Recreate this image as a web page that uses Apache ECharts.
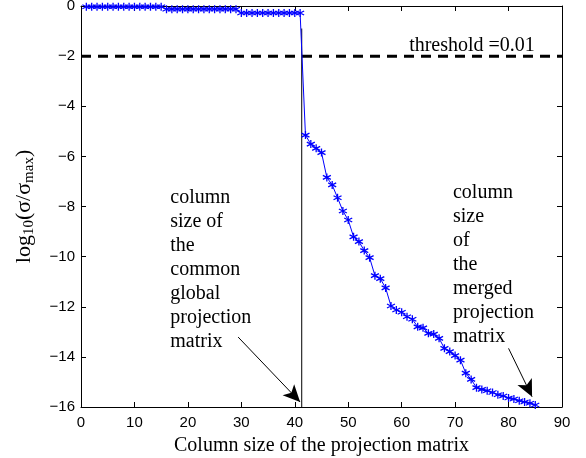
<!DOCTYPE html>
<html>
<head>
<meta charset="utf-8">
<script src="https://cdn.jsdelivr.net/npm/echarts@6/dist/echarts.min.js"></script>
<style>
html,body{margin:0;padding:0;background:#fff;}
#chart{width:586px;height:458px;}
</style>
</head>
<body>
<div id="chart"></div>
<script>
// ---- data ----
var logSigma = [
  -0.03,-0.03,-0.03,-0.03,-0.03,-0.03,-0.03,-0.03,-0.03,-0.03,-0.03,-0.03,-0.03,-0.03,-0.03,
  -0.13,-0.13,-0.13,-0.13,-0.13,-0.13,-0.13,-0.13,-0.13,-0.13,-0.13,-0.13,-0.13,-0.13,
  -0.28,-0.28,-0.28,-0.28,-0.28,-0.28,-0.28,-0.28,-0.28,-0.28,-0.28,-0.28,
  -5.15,-5.51,-5.68,-5.85,-6.84,-7.14,-7.65,-8.18,-8.54,-9.21,-9.40,-9.76,-10.04,-10.76,-10.88,
  -11.25,-11.97,-12.13,-12.22,-12.40,-12.50,-12.80,-12.84,-13.06,-13.09,-13.26,-13.66,-13.79,
  -13.95,-14.13,-14.65,-14.90,-15.23,-15.30,-15.35,-15.42,-15.51,-15.56,-15.64,-15.68,-15.75,
  -15.80,-15.85,-15.92
];
var thresholdLevel = -2;
var thresholdText = 'threshold =0.01';
var commonColumns = 41.3;
var commonLineTop = -0.9;
var xTicks = [0, 90, 10];
var yTicks = [-16, 0, 2];
var leftNote = ['column','size of','the','common','global','projection','matrix'];
var rightNote = ['column','size','of','the','merged','projection','matrix'];
var leftNotePos = [16.7, -7.18];
var rightNotePos = [69.6, -6.98];
var thresholdTextPos = [61.4, -1.6];
var leftArrow = [[29.4, -13.21], [41.0, -15.8]];
var rightArrow = [[80.0, -13.66], [84.4, -15.59]];
var xTitle = 'Column size of the projection matrix';

// ---- build ----
var seriesData = logSigma.map(function (v, i) { return [i + 1, v]; });
var asterisk = 'path://M5,0L5,10M0.67,2.5L9.33,7.5M0.67,7.5L9.33,2.5';
var serif = 'Liberation Serif';
var sans = 'Liberation Sans';
function minus(v) { return String(v).replace('-', '\u2212'); }

var axisCommon = {
  axisLine: { show: true, onZero: false, lineStyle: { color: '#000', width: 1 } },
  axisTick: { show: true, inside: true, length: 5, lineStyle: { color: '#000', width: 1 } },
  splitLine: { show: false }
};

var chart = echarts.init(document.getElementById('chart'), null, { renderer: 'canvas' });
chart.setOption({
  animation: false,
  backgroundColor: '#fff',
  grid: { left: 81, right: 24, top: 6, bottom: 51, containLabel: false, outerBoundsMode: 'none' },
  xAxis: [
    Object.assign({}, axisCommon, {
      type: 'value', position: 'bottom', min: xTicks[0], max: xTicks[1], interval: xTicks[2],
      axisLabel: { color: '#000', fontFamily: sans, fontSize: 15, margin: 8 },
      name: xTitle, nameLocation: 'middle', nameGap: 29,
      nameTextStyle: { color: '#000', fontFamily: serif, fontSize: 20 }
    }),
    Object.assign({}, axisCommon, {
      type: 'value', position: 'top', min: xTicks[0], max: xTicks[1], interval: xTicks[2],
      axisLabel: { show: false }
    })
  ],
  yAxis: [
    Object.assign({}, axisCommon, {
      type: 'value', position: 'left', min: yTicks[0], max: yTicks[1], interval: yTicks[2],
      axisLabel: { color: '#000', fontFamily: sans, fontSize: 15, margin: 6, formatter: minus },
      name: '{m|log}{s|10}{m|(σ/σ}{s|max}{m|)}',
      nameLocation: 'middle', nameRotate: 90, nameGap: 46,
      nameTextStyle: {
        color: '#000', fontFamily: serif, fontSize: 21,
        rich: {
          m: { fontFamily: serif, fontSize: 22, lineHeight: 22, color: '#000' },
          s: { fontFamily: serif, fontSize: 15, lineHeight: 15, padding: [10, 0, 0, 0], color: '#000' }
        }
      }
    }),
    Object.assign({}, axisCommon, {
      type: 'value', position: 'right', min: yTicks[0], max: yTicks[1], interval: yTicks[2],
      axisLabel: { show: false }
    })
  ],
  series: [
    {
      type: 'line', data: [[xTicks[0], thresholdLevel], [xTicks[1], thresholdLevel]],
      symbol: 'none', silent: true, z: 1,
      lineStyle: { color: '#000', width: 3, type: [10, 7] }
    },
    {
      type: 'line', data: [[commonColumns, commonLineTop], [commonColumns, yTicks[0]]],
      symbol: 'none', silent: true, z: 1,
      lineStyle: { color: '#000', width: 1 },
      markLine: {
        silent: true, animation: false,
        symbol: ['none', 'arrow'], symbolSize: [12, 17],
        lineStyle: { color: '#000', width: 1, type: 'solid' },
        label: { show: false },
        data: [
          [{ coord: leftArrow[0] }, { coord: leftArrow[1] }],
          [{ coord: rightArrow[0] }, { coord: rightArrow[1] }]
        ]
      }
    },
    {
      type: 'line', data: seriesData, z: 3,
      symbol: asterisk, symbolSize: 8, showAllSymbol: true,
      lineStyle: { color: '#0000ff', width: 1 },
      itemStyle: { color: '#0000ff', borderColor: '#0000ff', borderWidth: 1.3 }
    }
  ]
});

// text annotations placed through the chart's own coordinate conversion
function note(pos, text, vAlign) {
  var p = chart.convertToPixel({ gridIndex: 0 }, pos);
  return {
    type: 'text', x: p[0], y: p[1], silent: true, z: 10,
    style: {
      text: text, fill: '#000', font: '20px "Liberation Serif"',
      lineHeight: 24, align: 'left', verticalAlign: vAlign
    }
  };
}
chart.setOption({
  graphic: [
    note(leftNotePos, leftNote.join('\n'), 'top'),
    note(rightNotePos, rightNote.join('\n'), 'top'),
    note(thresholdTextPos, thresholdText, 'middle')
  ]
});
</script>
</body>
</html>
